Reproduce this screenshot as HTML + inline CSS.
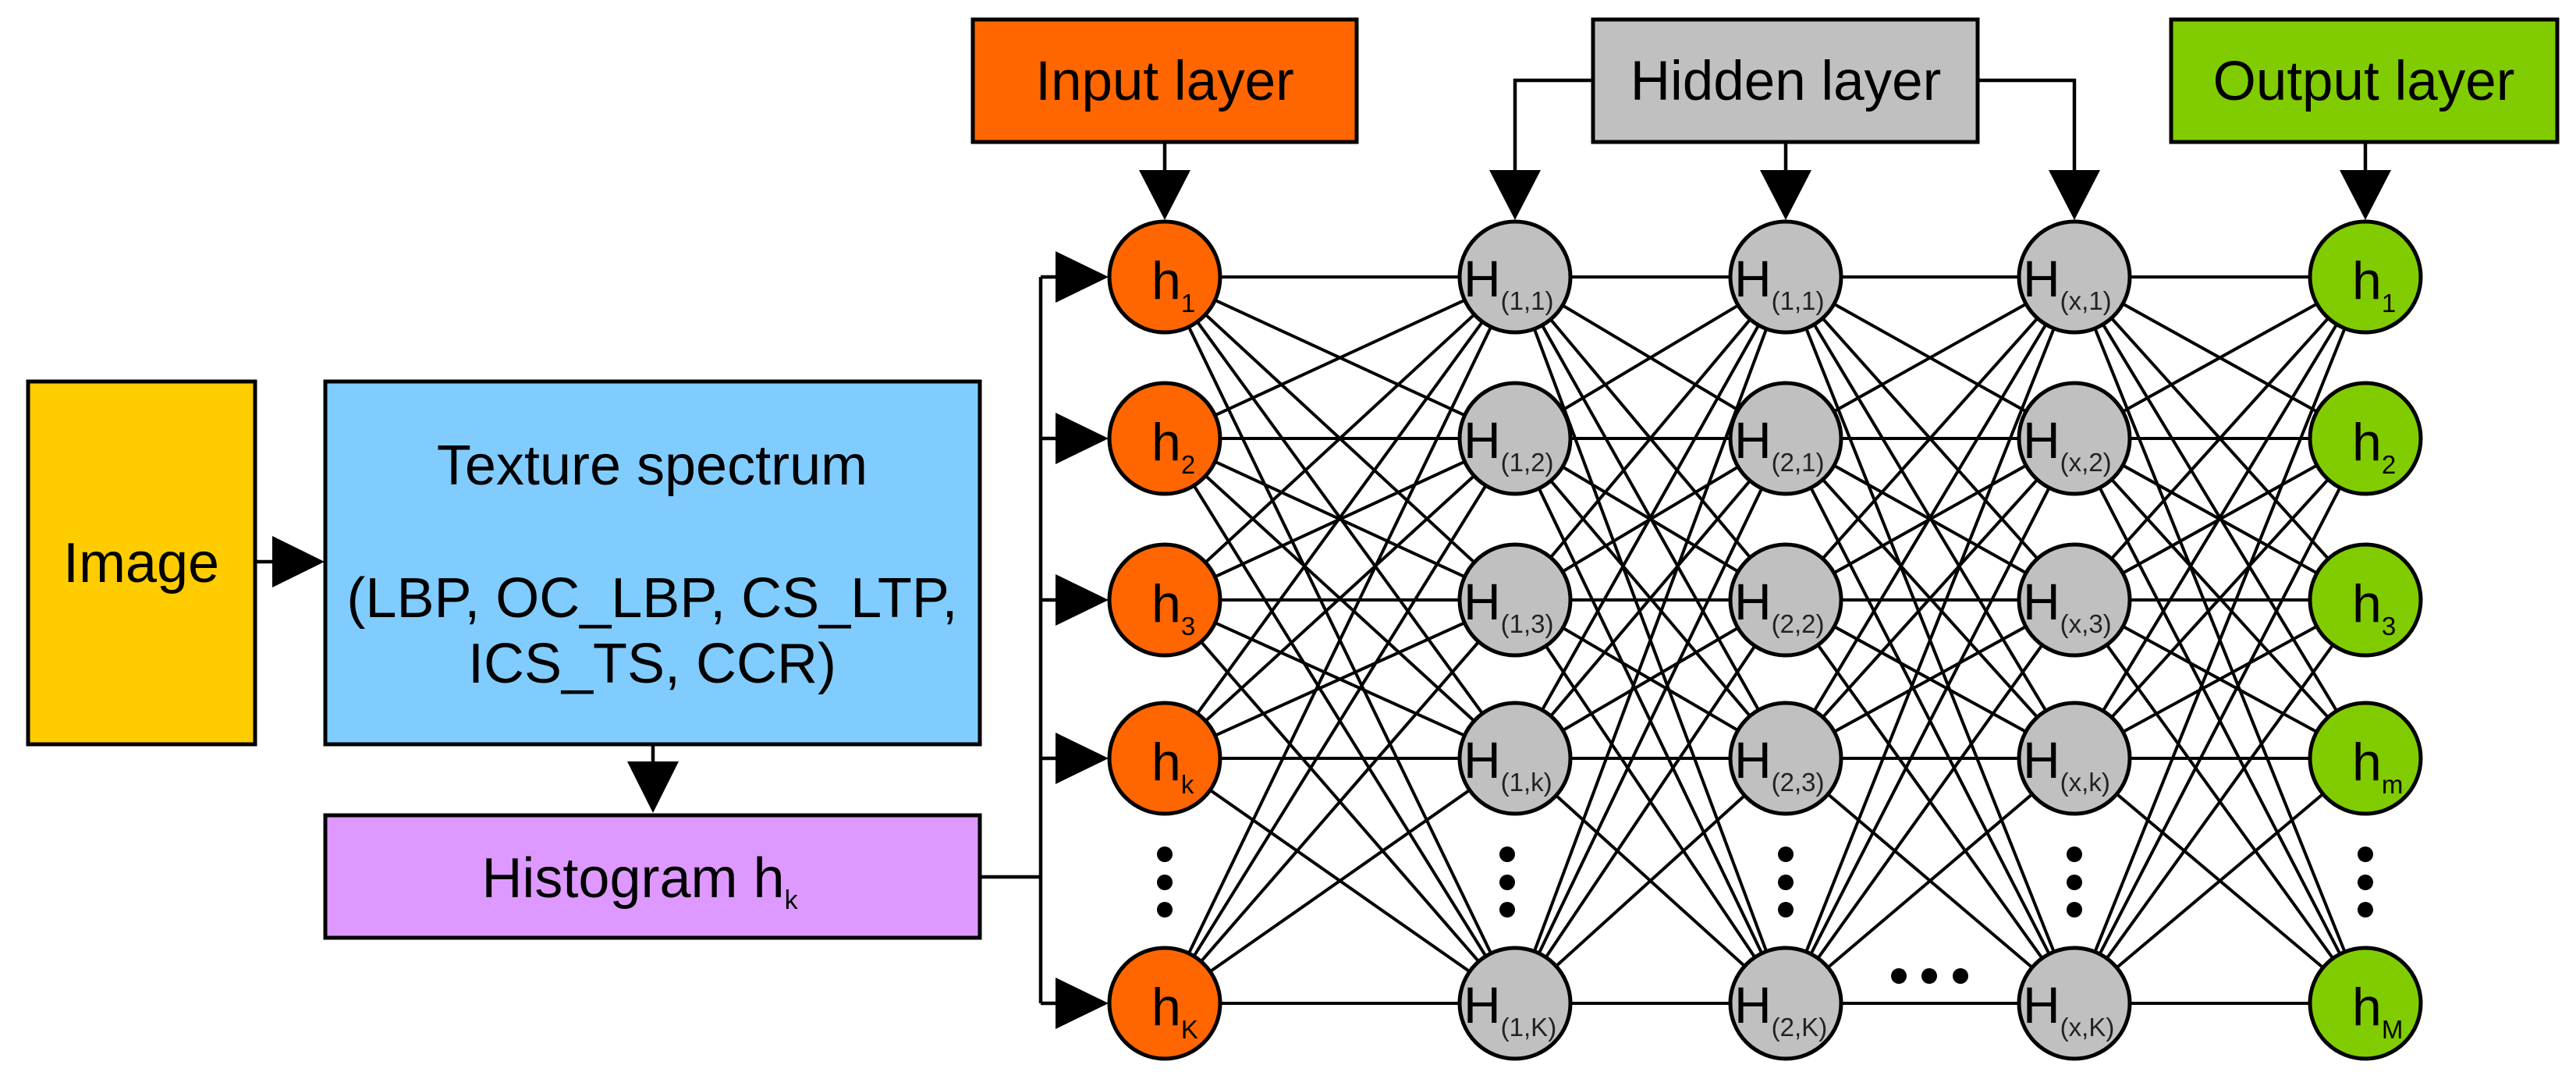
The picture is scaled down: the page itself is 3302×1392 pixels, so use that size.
<!DOCTYPE html>
<html><head><meta charset="utf-8"><style>html,body{margin:0;padding:0;background:#fff}svg{display:block}</style></head>
<body>
<svg width="3302" height="1392" viewBox="0 0 3302 1392" xmlns="http://www.w3.org/2000/svg" font-family="Liberation Sans, Arial, sans-serif">
<g stroke="#000" stroke-width="5">
<rect x="36" y="489" width="291" height="465" fill="#FFCC00"/>
<rect x="417" y="489" width="839" height="465" fill="#80CCFF"/>
<rect x="417" y="1045" width="839" height="157" fill="#DD99FF"/>
<rect x="1247" y="25" width="492" height="157" fill="#FF6600"/>
<rect x="2042" y="25" width="493" height="157" fill="#C0C0C0"/>
<rect x="2783" y="25" width="495" height="157" fill="#80CC00"/>
</g>
<g stroke="#000" stroke-width="4.5" fill="none">
<line x1="327" y1="720" x2="360" y2="720"/>
<line x1="837" y1="954" x2="837" y2="985"/>
<polyline points="1256,1124 1334,1124"/>
<line x1="1334" y1="355" x2="1334" y2="1286"/>
<line x1="1334" y1="355" x2="1360" y2="355"/>
<line x1="1334" y1="562" x2="1360" y2="562"/>
<line x1="1334" y1="769" x2="1360" y2="769"/>
<line x1="1334" y1="972" x2="1360" y2="972"/>
<line x1="1334" y1="1286" x2="1360" y2="1286"/>
<line x1="1493" y1="182" x2="1493" y2="225"/>
<polyline points="2042,103 1942,103 1942,225"/>
<polyline points="2535,103 2659,103 2659,225"/>
<line x1="2289" y1="182" x2="2289" y2="225"/>
<line x1="3032" y1="182" x2="3032" y2="225"/>
</g>
<g fill="#000">
<polygon points="349,687 349,753 416,720"/>
<polygon points="804,976 870,976 837,1042"/>
<polygon points="1353,322 1353,388 1421,355"/>
<polygon points="1353,529 1353,595 1421,562"/>
<polygon points="1353,736 1353,802 1421,769"/>
<polygon points="1353,939 1353,1005 1421,972"/>
<polygon points="1353,1253 1353,1319 1421,1286"/>
<polygon points="1460,218 1526,218 1493,282"/>
<polygon points="1909,218 1975,218 1942,282"/>
<polygon points="2256,218 2322,218 2289,282"/>
<polygon points="2626,218 2692,218 2659,282"/>
<polygon points="2999,218 3065,218 3032,282"/>
</g>
<g id="mesh" stroke="#000" stroke-width="4">
</g>
<script>
(function(){
var cols=[1493,1942,2289,2659,3032];var rows=[355,562,769,972,1286];
var g=document.getElementById('mesh');var ns='http://www.w3.org/2000/svg';
for(var c=0;c<4;c++)for(var i=0;i<5;i++)for(var j=0;j<5;j++){var l=document.createElementNS(ns,'line');
l.setAttribute('x1',cols[c]);l.setAttribute('y1',rows[i]);l.setAttribute('x2',cols[c+1]);l.setAttribute('y2',rows[j]);g.appendChild(l);}
})();
</script>
<g stroke="#000" stroke-width="5">
<g fill="#FF6600">
<circle cx="1493" cy="355" r="71"/><circle cx="1493" cy="562" r="71"/><circle cx="1493" cy="769" r="71"/><circle cx="1493" cy="972" r="71"/><circle cx="1493" cy="1286" r="71"/>
</g>
<g fill="#C0C0C0">
<circle cx="1942" cy="355" r="71"/><circle cx="1942" cy="562" r="71"/><circle cx="1942" cy="769" r="71"/><circle cx="1942" cy="972" r="71"/><circle cx="1942" cy="1286" r="71"/>
<circle cx="2289" cy="355" r="71"/><circle cx="2289" cy="562" r="71"/><circle cx="2289" cy="769" r="71"/><circle cx="2289" cy="972" r="71"/><circle cx="2289" cy="1286" r="71"/>
<circle cx="2659" cy="355" r="71"/><circle cx="2659" cy="562" r="71"/><circle cx="2659" cy="769" r="71"/><circle cx="2659" cy="972" r="71"/><circle cx="2659" cy="1286" r="71"/>
</g>
<g fill="#80CC00">
<circle cx="3032" cy="355" r="71"/><circle cx="3032" cy="562" r="71"/><circle cx="3032" cy="769" r="71"/><circle cx="3032" cy="972" r="71"/><circle cx="3032" cy="1286" r="71"/>
</g>
</g>
<g fill="#000">
<circle cx="1493" cy="1095" r="10"/><circle cx="1493" cy="1131" r="10"/><circle cx="1493" cy="1166" r="10"/>
<circle cx="1932" cy="1095" r="10"/><circle cx="1932" cy="1131" r="10"/><circle cx="1932" cy="1166" r="10"/>
<circle cx="2289" cy="1095" r="10"/><circle cx="2289" cy="1131" r="10"/><circle cx="2289" cy="1166" r="10"/>
<circle cx="2659" cy="1095" r="10"/><circle cx="2659" cy="1131" r="10"/><circle cx="2659" cy="1166" r="10"/>
<circle cx="3032" cy="1095" r="10"/><circle cx="3032" cy="1131" r="10"/><circle cx="3032" cy="1166" r="10"/>
<circle cx="2434" cy="1251" r="10"/><circle cx="2473" cy="1251" r="10"/><circle cx="2513" cy="1251" r="10"/>
</g>
<g fill="#000" font-size="72" text-anchor="middle">
<text x="181" y="746">Image</text>
<text x="836" y="621">Texture spectrum</text>
<text x="836" y="791">(LBP, OC_LBP, CS_LTP,</text>
<text x="836" y="875">ICS_TS, CCR)</text>
<text x="820" y="1150">Histogram h<tspan font-size="34" dy="15">k</tspan></text>
<text x="1493" y="128" font-size="71">Input layer</text>
<text x="2289" y="128" font-size="71">Hidden layer</text>
<text x="3030" y="128" font-size="71">Output layer</text>
</g>
<g fill="#000" font-size="68">
<text x="1476" y="383">h<tspan font-size="33" dy="17">1</tspan></text>
<text x="1476" y="590">h<tspan font-size="33" dy="17">2</tspan></text>
<text x="1476" y="797">h<tspan font-size="33" dy="17">3</tspan></text>
<text x="1476" y="1000">h<tspan font-size="33" dy="17">k</tspan></text>
<text x="1476" y="1314">h<tspan font-size="33" dy="17">K</tspan></text>
<text x="3015" y="383">h<tspan font-size="33" dy="17">1</tspan></text>
<text x="3015" y="590">h<tspan font-size="33" dy="17">2</tspan></text>
<text x="3015" y="797">h<tspan font-size="33" dy="17">3</tspan></text>
<text x="3015" y="1000">h<tspan font-size="33" dy="17">m</tspan></text>
<text x="3015" y="1314">h<tspan font-size="33" dy="17">M</tspan></text>
</g>
<g fill="#000" font-size="66">
<text x="1876" y="380">H<tspan font-size="33" dy="17" fill="#222">(1,1)</tspan></text>
<text x="1876" y="587">H<tspan font-size="33" dy="17" fill="#222">(1,2)</tspan></text>
<text x="1876" y="794">H<tspan font-size="33" dy="17" fill="#222">(1,3)</tspan></text>
<text x="1876" y="997">H<tspan font-size="33" dy="17" fill="#222">(1,k)</tspan></text>
<text x="1876" y="1311">H<tspan font-size="33" dy="17" fill="#222">(1,K)</tspan></text>
<text x="2223" y="380">H<tspan font-size="33" dy="17" fill="#222">(1,1)</tspan></text>
<text x="2223" y="587">H<tspan font-size="33" dy="17" fill="#222">(2,1)</tspan></text>
<text x="2223" y="794">H<tspan font-size="33" dy="17" fill="#222">(2,2)</tspan></text>
<text x="2223" y="997">H<tspan font-size="33" dy="17" fill="#222">(2,3)</tspan></text>
<text x="2223" y="1311">H<tspan font-size="33" dy="17" fill="#222">(2,K)</tspan></text>
<text x="2593" y="380">H<tspan font-size="33" dy="17" fill="#222">(x,1)</tspan></text>
<text x="2593" y="587">H<tspan font-size="33" dy="17" fill="#222">(x,2)</tspan></text>
<text x="2593" y="794">H<tspan font-size="33" dy="17" fill="#222">(x,3)</tspan></text>
<text x="2593" y="997">H<tspan font-size="33" dy="17" fill="#222">(x,k)</tspan></text>
<text x="2593" y="1311">H<tspan font-size="33" dy="17" fill="#222">(x,K)</tspan></text>
</g>
</svg>
</body></html>
